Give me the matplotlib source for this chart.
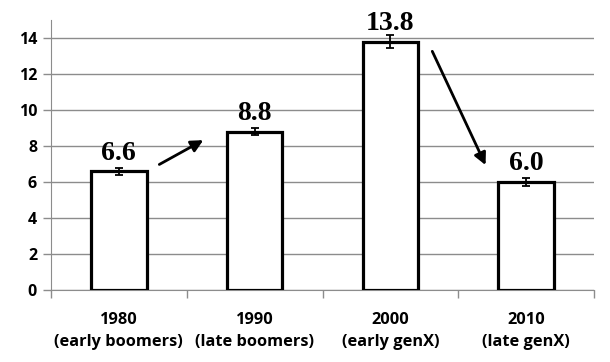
import matplotlib.pyplot as plt

# data
years = ['1980', '1990', '2000', '2010']
groups = ['(early boomers)', '(late boomers)', '(early genX)', '(late genX)']
values = [6.6, 8.8, 13.8, 6.0]
errors = [0.2, 0.2, 0.35, 0.2]
value_labels = ['6.6', '8.8', '13.8', '6.0']

fig = plt.figure(figsize=(6.1, 3.62), dpi=100)
ax = fig.add_axes([51/610, 1 - 290/362, 543/610, 270/362])

x = range(len(values))
ax.bar(x, values, width=0.41, color='white', edgecolor='black', linewidth=2.3, zorder=3)
ax.errorbar(x, values, yerr=errors, fmt='none', ecolor='black', elinewidth=1.3,
            capsize=2.8, capthick=1.3, zorder=4)

for i, (v, e, lab) in enumerate(zip(values, errors, value_labels)):
    ax.annotate(lab, (i, v), xytext=(0, 4), textcoords='offset points',
                ha='center', va='bottom', fontsize=20, fontweight='bold',
                family='Liberation Serif', zorder=5)

# arrows
ax.annotate('', xy=(0.64, 8.4), xytext=(0.28, 6.9),
            arrowprops=dict(arrowstyle='-|>', color='black', lw=2, mutation_scale=18), zorder=5)
ax.annotate('', xy=(2.71, 6.8), xytext=(2.30, 13.4),
            arrowprops=dict(arrowstyle='-|>', color='black', lw=2, mutation_scale=18), zorder=5)

ax.set_xlim(-0.5, 3.5)
ax.set_ylim(0, 15)
ax.set_yticks(range(0, 15, 2))
ax.set_yticklabels([str(t) for t in range(0, 15, 2)], fontsize=11.5, fontweight='bold', family='Open Sans')
ax.yaxis.grid(True, color='#8c8c8c', linewidth=1)
ax.set_axisbelow(True)

# category labels, ticks at boundaries
ax.set_xticks([-0.5, 0.5, 1.5, 2.5, 3.5])
ax.set_xticklabels([])
ax.tick_params(axis='x', length=6, color='#8c8c8c', width=1)
ax.tick_params(axis='y', length=6, color='#8c8c8c', width=1, pad=4)
for i, (yr, g) in enumerate(zip(years, groups)):
    ax.text(i, -1.2, yr + '\n' + g, ha='center', va='top', fontsize=11.8,
            fontweight='bold', family='Open Sans', linespacing=1.5)

for s in ['top', 'right']:
    ax.spines[s].set_visible(False)
ax.spines['left'].set_color('#8c8c8c')
ax.spines['bottom'].set_color('#8c8c8c')

plt.savefig('out.png', dpi=100)
